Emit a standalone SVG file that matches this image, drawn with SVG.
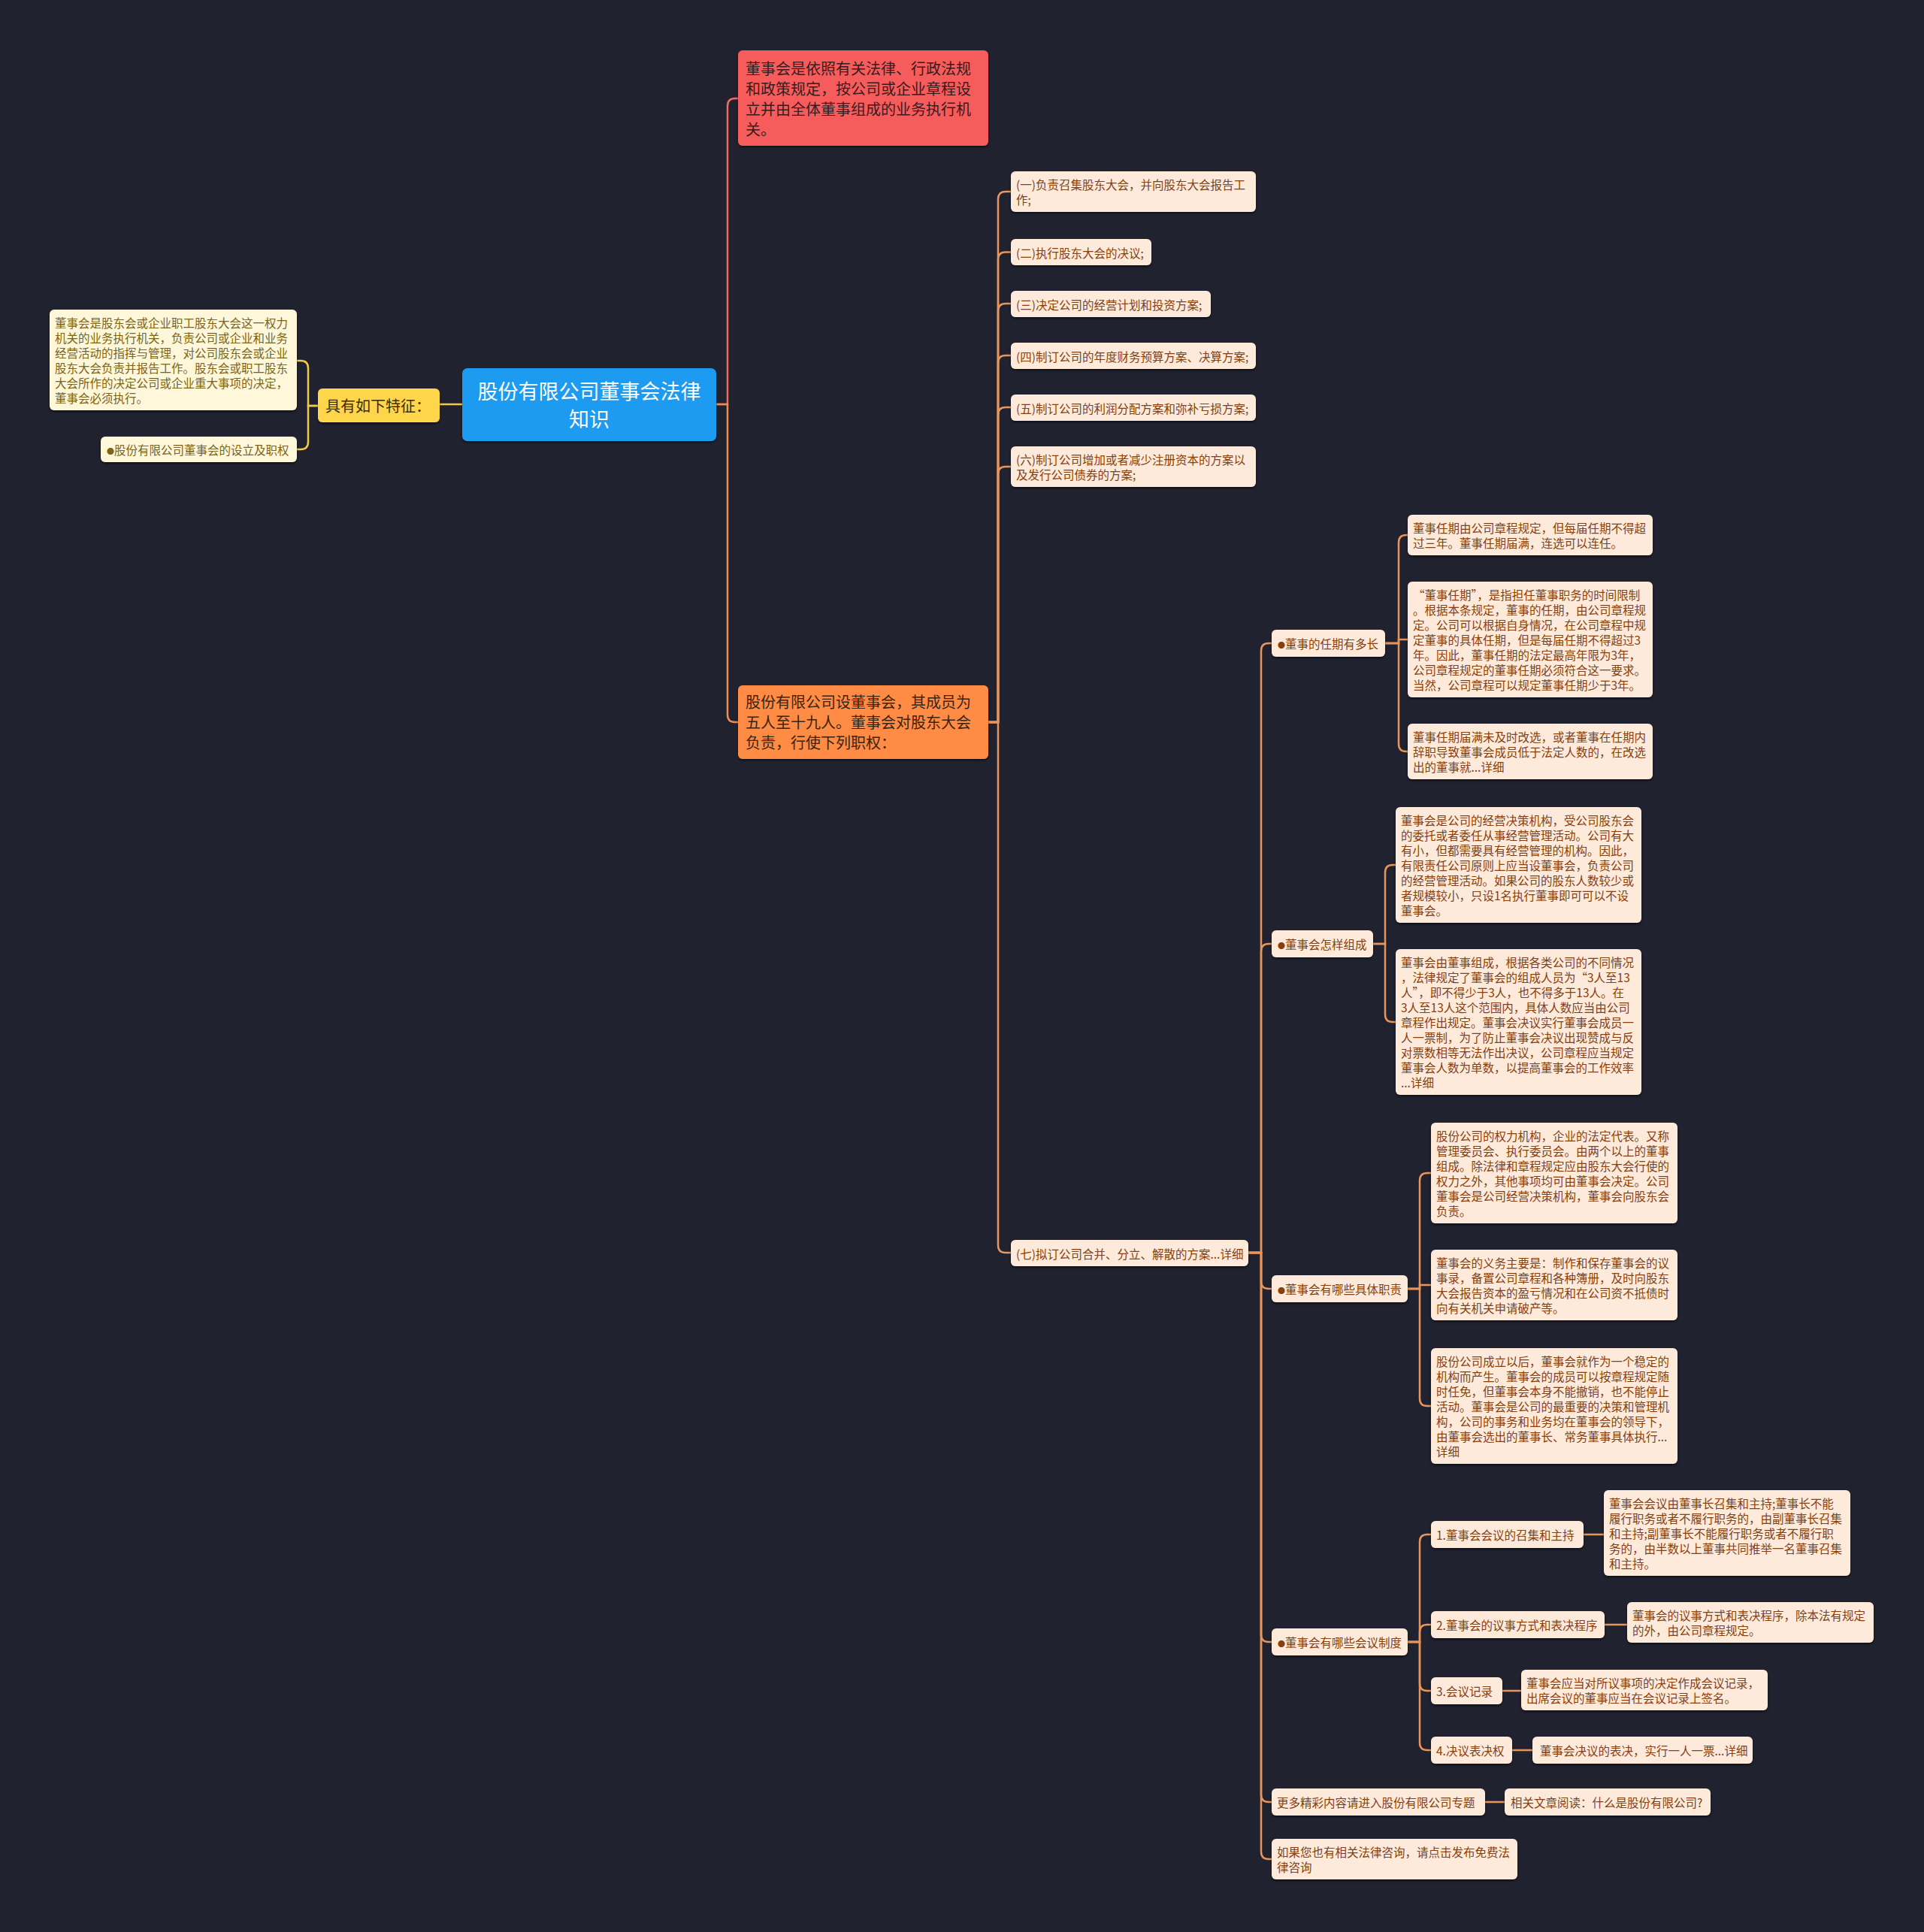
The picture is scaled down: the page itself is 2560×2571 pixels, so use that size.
<svg xmlns="http://www.w3.org/2000/svg" width="2560" height="2571" viewBox="0 0 2560 2571">
<defs>
<filter id="sh" x="-10%" y="-10%" width="120%" height="130%">
<feDropShadow dx="0" dy="2" stdDeviation="1.5" flood-color="#000" flood-opacity="0.55"/>
</filter>
<style>
.t{font-family:"Noto Sans CJK SC","Noto Sans",sans-serif;font-size:15.5px;fill:#86400F;}
.ty{font-family:"Noto Sans CJK SC","Noto Sans",sans-serif;font-size:15.5px;fill:#7A6417;}
.bu{font-size:10px;}
.bx{fill:#FDEADB;filter:url(#sh);}
.by{fill:#FFF7DA;filter:url(#sh);}
.ln{fill:none;stroke:#E8955C;stroke-width:2.5;}
.lr{fill:none;stroke:#F06A62;stroke-width:2.5;}
.lo{fill:none;stroke:#F08D4E;stroke-width:2.5;}
.lyl{fill:none;stroke:#F2CB45;stroke-width:2.5;}
.big{font-family:"Noto Sans CJK SC","Noto Sans",sans-serif;font-size:20px;}
</style>
</defs>
<rect width="2560" height="2571" fill="#20222F"/>

<g id="connectors">
<path class="lr" d="M953,538 H968 V141 Q968,131 978,131 H982"/>
<path class="lo" d="M953,538 H968 V951 Q968,961 978,961 H982"/>
<path class="lyl" d="M615,538 H585"/>
<path class="lyl" d="M423,540 H410 V490 Q410,480 400,480 H395"/>
<path class="lyl" d="M423,540 H410 V588 Q410,598 400,598 H395"/>

<path class="ln" d="M1315,961 H1328 V265 Q1328,255 1338,255 H1345"/>
<path class="ln" d="M1315,961 H1328 V345.5 Q1328,335.5 1338,335.5 H1345"/>
<path class="ln" d="M1315,961 H1328 V414 Q1328,404 1338,404 H1345"/>
<path class="ln" d="M1315,961 H1328 V483 Q1328,473 1338,473 H1345"/>
<path class="ln" d="M1315,961 H1328 V552 Q1328,542 1338,542 H1345"/>
<path class="ln" d="M1315,961 H1328 V631 Q1328,621 1338,621 H1345"/>
<path class="ln" d="M1315,961 H1328 V1657 Q1328,1667 1338,1667 H1345"/>

<path class="ln" d="M1661,1667 H1678 V866 Q1678,856 1688,856 H1692"/>
<path class="ln" d="M1661,1667 H1678 V1266 Q1678,1256 1688,1256 H1692"/>
<path class="ln" d="M1661,1667 H1678 V1705 Q1678,1715 1688,1715 H1692"/>
<path class="ln" d="M1661,1667 H1678 V2175 Q1678,2185 1688,2185 H1692"/>
<path class="ln" d="M1661,1667 H1678 V2388 Q1678,2398 1688,2398 H1692"/>
<path class="ln" d="M1661,1667 H1678 V2464 Q1678,2474 1688,2474 H1692"/>

<path class="ln" d="M1843,856 H1861 V722 Q1861,712 1871,712 H1873"/>
<path class="ln" d="M1843,856 H1861 V851 H1873"/>
<path class="ln" d="M1843,856 H1861 V990 Q1861,1000 1871,1000 H1873"/>

<path class="ln" d="M1827,1256 H1843 V1161 Q1843,1151 1853,1151 H1857"/>
<path class="ln" d="M1827,1256 H1843 V1350 Q1843,1360 1853,1360 H1857"/>

<path class="ln" d="M1873,1715 H1889 V1571 Q1889,1561 1899,1561 H1904"/>
<path class="ln" d="M1873,1715 H1889 V1710 H1904"/>
<path class="ln" d="M1873,1715 H1889 V1861 Q1889,1871 1899,1871 H1904"/>

<path class="ln" d="M1873,2185 H1889 V2052 Q1889,2042 1899,2042 H1904"/>
<path class="ln" d="M1873,2185 H1889 V2172 Q1889,2162 1899,2162 H1904"/>
<path class="ln" d="M1873,2185 H1889 V2240 Q1889,2250 1899,2250 H1904"/>
<path class="ln" d="M1873,2185 H1889 V2319 Q1889,2329 1899,2329 H1904"/>

<path class="ln" d="M2107,2042 H2134"/>
<path class="ln" d="M2135,2162 H2165"/>
<path class="ln" d="M1999,2250 H2024"/>
<path class="ln" d="M2012,2329 H2039"/>
<path class="ln" d="M1976,2398 H2002"/>
</g>

<g id="root">
<rect x="615" y="490" width="338" height="97" rx="7" fill="#1D9BF0" filter="url(#sh)"/>
<text x="784" y="531" text-anchor="middle" font-family="Noto Sans CJK SC, sans-serif" font-size="27" fill="#FFFFFF">股份有限公司董事会法律</text>
<text x="784" y="568" text-anchor="middle" font-family="Noto Sans CJK SC, sans-serif" font-size="27" fill="#FFFFFF">知识</text>
</g>

<g id="features">
<rect x="423" y="517" width="162" height="45" rx="6" fill="#FFD54A" filter="url(#sh)"/>
<text x="433" y="548" class="big" fill="#3A2E05">具有如下特征：</text>
</g>

<g id="feature1">
<rect class="by" x="66" y="412" width="329" height="134" rx="6"/>
<text class="ty" x="73" y="436">董事会是股东会或企业职工股东大会这一权力</text>
<text class="ty" x="73" y="456">机关的业务执行机关，负责公司或企业和业务</text>
<text class="ty" x="73" y="476">经营活动的指挥与管理，对公司股东会或企业</text>
<text class="ty" x="73" y="496">股东大会负责并报告工作。股东会或职工股东</text>
<text class="ty" x="73" y="516">大会所作的决定公司或企业重大事项的决定，</text>
<text class="ty" x="73" y="536">董事会必须执行。</text>
</g>

<g id="feature2">
<rect class="by" x="134" y="581" width="261" height="34" rx="6"/>
<text class="ty" x="142" y="605"><tspan class="bu">●</tspan>股份有限公司董事会的设立及职权</text>
</g>

<g id="definition">
<rect x="982" y="67" width="333" height="127" rx="6" fill="#F65C5C" filter="url(#sh)"/>
<text class="big" x="992" y="99" fill="#3D1A1A">董事会是依照有关法律、行政法规</text>
<text class="big" x="992" y="126" fill="#3D1A1A">和政策规定，按公司或企业章程设</text>
<text class="big" x="992" y="153" fill="#3D1A1A">立并由全体董事组成的业务执行机</text>
<text class="big" x="992" y="180" fill="#3D1A1A">关。</text>
</g>

<g id="powers">
<rect x="982" y="912" width="333" height="98" rx="6" fill="#FF8B45" filter="url(#sh)"/>
<text class="big" x="992" y="942" fill="#3A2410">股份有限公司设董事会，其成员为</text>
<text class="big" x="992" y="969" fill="#3A2410">五人至十九人。董事会对股东大会</text>
<text class="big" x="992" y="996" fill="#3A2410">负责，行使下列职权：</text>
</g>

<g id="p1">
<rect class="bx" x="1345" y="228" width="326" height="54" rx="6"/>
<text class="t" x="1352" y="252">(一)负责召集股东大会，并向股东大会报告工</text>
<text class="t" x="1352" y="272">作;</text>
</g>
<g id="p2">
<rect class="bx" x="1345" y="318" width="187" height="35" rx="6"/>
<text class="t" x="1352" y="343">(二)执行股东大会的决议;</text>
</g>
<g id="p3">
<rect class="bx" x="1345" y="387" width="266" height="35" rx="6"/>
<text class="t" x="1352" y="412">(三)决定公司的经营计划和投资方案;</text>
</g>
<g id="p4">
<rect class="bx" x="1345" y="456" width="326" height="35" rx="6"/>
<text class="t" x="1352" y="481">(四)制订公司的年度财务预算方案、决算方案;</text>
</g>
<g id="p5">
<rect class="bx" x="1345" y="525" width="326" height="35" rx="6"/>
<text class="t" x="1352" y="550">(五)制订公司的利润分配方案和弥补亏损方案;</text>
</g>
<g id="p6">
<rect class="bx" x="1345" y="594" width="326" height="54" rx="6"/>
<text class="t" x="1352" y="618">(六)制订公司增加或者减少注册资本的方案以</text>
<text class="t" x="1352" y="638">及发行公司债券的方案;</text>
</g>
<g id="p7">
<rect class="bx" x="1345" y="1650" width="316" height="35" rx="6"/>
<text class="t" x="1352" y="1675">(七)拟订公司合并、分立、解散的方案...详细</text>
</g>

<g id="term">
<rect class="bx" x="1692" y="838" width="151" height="36" rx="6"/>
<text class="t" x="1700" y="863"><tspan class="bu">●</tspan>董事的任期有多长</text>
</g>
<g id="term1">
<rect class="bx" x="1873" y="685" width="326" height="54" rx="6"/>
<text class="t" x="1880" y="709">董事任期由公司章程规定，但每届任期不得超</text>
<text class="t" x="1880" y="729">过三年。董事任期届满，连选可以连任。</text>
</g>
<g id="term2">
<rect class="bx" x="1873" y="774" width="326" height="154" rx="6"/>
<text class="t" x="1880" y="798">“董事任期”，是指担任董事职务的时间限制</text>
<text class="t" x="1880" y="818">。根据本条规定，董事的任期，由公司章程规</text>
<text class="t" x="1880" y="838">定。公司可以根据自身情况，在公司章程中规</text>
<text class="t" x="1880" y="858">定董事的具体任期，但是每届任期不得超过3</text>
<text class="t" x="1880" y="878">年。因此，董事任期的法定最高年限为3年，</text>
<text class="t" x="1880" y="898">公司章程规定的董事任期必须符合这一要求。</text>
<text class="t" x="1880" y="918">当然，公司章程可以规定董事任期少于3年。</text>
</g>
<g id="term3">
<rect class="bx" x="1873" y="963" width="326" height="74" rx="6"/>
<text class="t" x="1880" y="987">董事任期届满未及时改选，或者董事在任期内</text>
<text class="t" x="1880" y="1007">辞职导致董事会成员低于法定人数的，在改选</text>
<text class="t" x="1880" y="1027">出的董事就...详细</text>
</g>

<g id="compose">
<rect class="bx" x="1692" y="1238" width="135" height="36" rx="6"/>
<text class="t" x="1700" y="1263"><tspan class="bu">●</tspan>董事会怎样组成</text>
</g>
<g id="compose1">
<rect class="bx" x="1857" y="1074" width="327" height="154" rx="6"/>
<text class="t" x="1864" y="1098">董事会是公司的经营决策机构，受公司股东会</text>
<text class="t" x="1864" y="1118">的委托或者委任从事经营管理活动。公司有大</text>
<text class="t" x="1864" y="1138">有小，但都需要具有经营管理的机构。因此，</text>
<text class="t" x="1864" y="1158">有限责任公司原则上应当设董事会，负责公司</text>
<text class="t" x="1864" y="1178">的经营管理活动。如果公司的股东人数较少或</text>
<text class="t" x="1864" y="1198">者规模较小，只设1名执行董事即可可以不设</text>
<text class="t" x="1864" y="1218">董事会。</text>
</g>
<g id="compose2">
<rect class="bx" x="1857" y="1263" width="327" height="194" rx="6"/>
<text class="t" x="1864" y="1287">董事会由董事组成，根据各类公司的不同情况</text>
<text class="t" x="1864" y="1307">，法律规定了董事会的组成人员为“3人至13</text>
<text class="t" x="1864" y="1327">人”，即不得少于3人，也不得多于13人。在</text>
<text class="t" x="1864" y="1347">3人至13人这个范围内，具体人数应当由公司</text>
<text class="t" x="1864" y="1367">章程作出规定。董事会决议实行董事会成员一</text>
<text class="t" x="1864" y="1387">人一票制，为了防止董事会决议出现赞成与反</text>
<text class="t" x="1864" y="1407">对票数相等无法作出决议，公司章程应当规定</text>
<text class="t" x="1864" y="1427">董事会人数为单数，以提高董事会的工作效率</text>
<text class="t" x="1864" y="1447">...详细</text>
</g>

<g id="duty">
<rect class="bx" x="1692" y="1697" width="181" height="36" rx="6"/>
<text class="t" x="1700" y="1722"><tspan class="bu">●</tspan>董事会有哪些具体职责</text>
</g>
<g id="duty1">
<rect class="bx" x="1904" y="1494" width="328" height="134" rx="6"/>
<text class="t" x="1911" y="1518">股份公司的权力机构，企业的法定代表。又称</text>
<text class="t" x="1911" y="1538">管理委员会、执行委员会。由两个以上的董事</text>
<text class="t" x="1911" y="1558">组成。除法律和章程规定应由股东大会行使的</text>
<text class="t" x="1911" y="1578">权力之外，其他事项均可由董事会决定。公司</text>
<text class="t" x="1911" y="1598">董事会是公司经营决策机构，董事会向股东会</text>
<text class="t" x="1911" y="1618">负责。</text>
</g>
<g id="duty2">
<rect class="bx" x="1904" y="1663" width="328" height="94" rx="6"/>
<text class="t" x="1911" y="1687">董事会的义务主要是：制作和保存董事会的议</text>
<text class="t" x="1911" y="1707">事录，备置公司章程和各种簿册，及时向股东</text>
<text class="t" x="1911" y="1727">大会报告资本的盈亏情况和在公司资不抵债时</text>
<text class="t" x="1911" y="1747">向有关机关申请破产等。</text>
</g>
<g id="duty3">
<rect class="bx" x="1904" y="1794" width="328" height="154" rx="6"/>
<text class="t" x="1911" y="1818">股份公司成立以后，董事会就作为一个稳定的</text>
<text class="t" x="1911" y="1838">机构而产生。董事会的成员可以按章程规定随</text>
<text class="t" x="1911" y="1858">时任免，但董事会本身不能撤销，也不能停止</text>
<text class="t" x="1911" y="1878">活动。董事会是公司的最重要的决策和管理机</text>
<text class="t" x="1911" y="1898">构，公司的事务和业务均在董事会的领导下，</text>
<text class="t" x="1911" y="1918">由董事会选出的董事长、常务董事具体执行...</text>
<text class="t" x="1911" y="1938">详细</text>
</g>

<g id="meeting">
<rect class="bx" x="1692" y="2167" width="181" height="36" rx="6"/>
<text class="t" x="1700" y="2192"><tspan class="bu">●</tspan>董事会有哪些会议制度</text>
</g>
<g id="m1">
<rect class="bx" x="1904" y="2024" width="203" height="36" rx="6"/>
<text class="t" x="1911" y="2049">1.董事会会议的召集和主持</text>
</g>
<g id="m1d">
<rect class="bx" x="2134" y="1983" width="328" height="114" rx="6"/>
<text class="t" x="2141" y="2007">董事会会议由董事长召集和主持;董事长不能</text>
<text class="t" x="2141" y="2027">履行职务或者不履行职务的，由副董事长召集</text>
<text class="t" x="2141" y="2047">和主持;副董事长不能履行职务或者不履行职</text>
<text class="t" x="2141" y="2067">务的，由半数以上董事共同推举一名董事召集</text>
<text class="t" x="2141" y="2087">和主持。</text>
</g>
<g id="m2">
<rect class="bx" x="1904" y="2144" width="231" height="36" rx="6"/>
<text class="t" x="1911" y="2169">2.董事会的议事方式和表决程序</text>
</g>
<g id="m2d">
<rect class="bx" x="2165" y="2132" width="328" height="54" rx="6"/>
<text class="t" x="2172" y="2156">董事会的议事方式和表决程序，除本法有规定</text>
<text class="t" x="2172" y="2176">的外，由公司章程规定。</text>
</g>
<g id="m3">
<rect class="bx" x="1904" y="2232" width="95" height="36" rx="6"/>
<text class="t" x="1911" y="2257">3.会议记录</text>
</g>
<g id="m3d">
<rect class="bx" x="2024" y="2222" width="328" height="54" rx="6"/>
<text class="t" x="2031" y="2246">董事会应当对所议事项的决定作成会议记录，</text>
<text class="t" x="2031" y="2266">出席会议的董事应当在会议记录上签名。</text>
</g>
<g id="m4">
<rect class="bx" x="1904" y="2311" width="108" height="36" rx="6"/>
<text class="t" x="1911" y="2336">4.决议表决权</text>
</g>
<g id="m4d">
<rect class="bx" x="2039" y="2311" width="293" height="36" rx="6"/>
<text class="t" x="2049" y="2336">董事会决议的表决，实行一人一票...详细</text>
</g>

<g id="more">
<rect class="bx" x="1692" y="2380" width="284" height="36" rx="6"/>
<text class="t" x="1699" y="2405">更多精彩内容请进入股份有限公司专题</text>
</g>
<g id="related">
<rect class="bx" x="2002" y="2380" width="274" height="36" rx="6"/>
<text class="t" x="2010" y="2405">相关文章阅读：什么是股份有限公司?</text>
</g>
<g id="consult">
<rect class="bx" x="1692" y="2447" width="327" height="54" rx="6"/>
<text class="t" x="1699" y="2471">如果您也有相关法律咨询，请点击发布免费法</text>
<text class="t" x="1699" y="2491">律咨询</text>
</g>
</svg>
